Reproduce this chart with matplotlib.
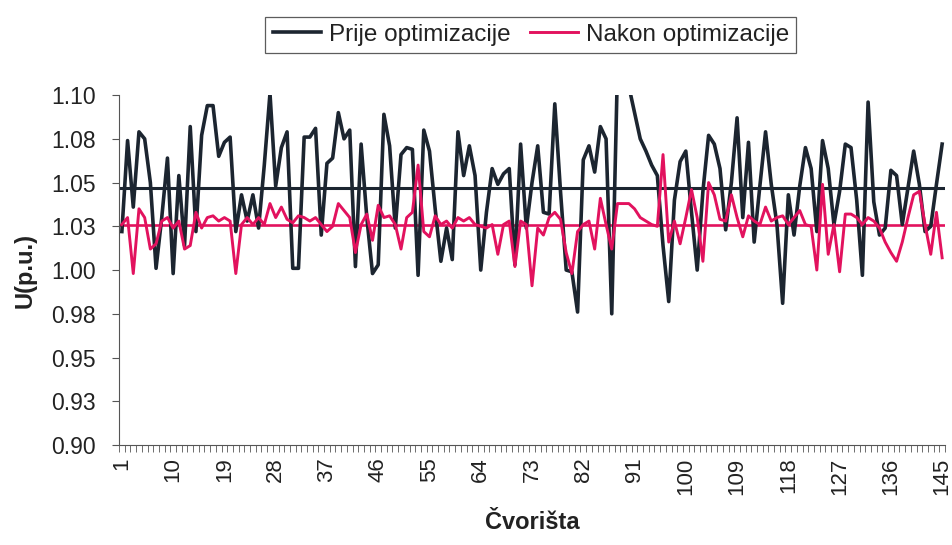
import numpy as np
import matplotlib
matplotlib.use("Agg")
import matplotlib.pyplot as plt
from matplotlib.ticker import FixedLocator

plt.rcParams['font.family'] = ['Liberation Sans', 'DejaVu Sans']

# napon po cvoristima prije optimizacije (p.u.)
prije = [
    1.022, 1.074, 1.036, 1.079, 1.075, 1.050, 1.001, 1.030, 1.064, 0.998,
    1.054, 1.014, 1.082, 1.022, 1.077, 1.094, 1.094, 1.065, 1.073, 1.076,
    1.022, 1.043, 1.028, 1.043, 1.024, 1.060, 1.101, 1.048, 1.070, 1.079,
    1.001, 1.001, 1.076, 1.076, 1.081, 1.020, 1.061, 1.064, 1.090, 1.075,
    1.080, 1.002, 1.072, 1.030, 0.998, 1.003, 1.089, 1.071, 1.024, 1.066,
    1.070, 1.069, 0.997, 1.080, 1.068, 1.035, 1.005, 1.024, 1.006, 1.079,
    1.054, 1.071, 1.054, 1.000, 1.033, 1.058, 1.049, 1.055, 1.058, 1.003,
    1.072, 1.024, 1.050, 1.071, 1.033, 1.032, 1.095, 1.045, 1.000, 0.999,
    0.976, 1.063, 1.071, 1.056, 1.082, 1.075, 0.975, 1.115, 1.125, 1.105,
    1.090, 1.075, 1.068, 1.060, 1.054, 1.014, 0.982, 1.040, 1.062, 1.068,
    1.033, 1.000, 1.045, 1.077, 1.072, 1.058, 1.023, 1.050, 1.087, 1.030,
    1.073, 1.016, 1.048, 1.079, 1.049, 1.026, 0.981, 1.043, 1.020, 1.048,
    1.070, 1.058, 1.022, 1.074, 1.058, 1.026, 1.045, 1.072, 1.070, 1.040,
    0.997, 1.096, 1.039, 1.020, 1.024, 1.057, 1.054, 1.026, 1.047, 1.068,
    1.049, 1.022, 1.025, 1.049, 1.072,
]

# napon po cvoristima nakon optimizacije (p.u.)
nakon = [
    1.026, 1.030, 0.998, 1.035, 1.030, 1.012, 1.015, 1.028, 1.030, 1.024,
    1.028, 1.012, 1.014, 1.033, 1.024, 1.030, 1.031, 1.028, 1.030, 1.028,
    0.998, 1.026, 1.030, 1.026, 1.030, 1.026, 1.038, 1.030, 1.036, 1.029,
    1.027, 1.031, 1.030, 1.028, 1.030, 1.026, 1.022, 1.025, 1.038, 1.034,
    1.030, 1.010, 1.026, 1.032, 1.017, 1.037, 1.030, 1.031, 1.026, 1.012,
    1.030, 1.033, 1.060, 1.022, 1.019, 1.031, 1.026, 1.028, 1.024, 1.030,
    1.028, 1.030, 1.026, 1.025, 1.024, 1.026, 1.009, 1.026, 1.028, 1.002,
    1.028, 1.026, 0.991, 1.024, 1.020, 1.030, 1.033, 1.029, 1.010, 0.998,
    1.022, 1.026, 1.028, 1.012, 1.041, 1.026, 1.012, 1.038, 1.038, 1.038,
    1.035, 1.030, 1.028, 1.026, 1.025, 1.066, 1.016, 1.028, 1.015, 1.030,
    1.046, 1.030, 1.005, 1.050, 1.043, 1.029, 1.028, 1.043, 1.030, 1.019,
    1.031, 1.028, 1.026, 1.036, 1.028, 1.030, 1.031, 1.026, 1.030, 1.034,
    1.026, 1.025, 1.000, 1.049, 1.009, 1.026, 0.999, 1.032, 1.032, 1.030,
    1.026, 1.030, 1.028, 1.024, 1.016, 1.010, 1.005, 1.016, 1.030, 1.043,
    1.045, 1.026, 1.009, 1.033, 1.007,
]

# srednje vrijednosti (horizontalne linije)
prosjek_prije = 1.047
prosjek_nakon = 1.026

cvorista = np.arange(1, len(prije) + 1)
x_oznake = list(range(1, 146, 9))
y_vrijednosti = [0.90, 0.925, 0.95, 0.975, 1.00, 1.025, 1.05, 1.075, 1.10]
y_oznake = ["0.90", "0.93", "0.95", "0.98", "1.00", "1.03", "1.05", "1.08", "1.10"]

crna = '#1c2530'
roza = '#e2125e'

fig = plt.figure(figsize=(9.53, 5.45), dpi=100)
ax = fig.add_axes([0.1249, 0.1835, 0.8667, 0.642])

l1, = ax.plot(cvorista, prije, color=crna, lw=2.6, label='Prije optimizacije', zorder=3)
l2, = ax.plot(cvorista, nakon, color=roza, lw=2.1, label='Nakon optimizacije', zorder=4)
ax.plot([0.5, len(prije) + 0.5], [prosjek_prije] * 2, color=crna, lw=2.2, zorder=2)
ax.plot([0.5, len(nakon) + 0.5], [prosjek_nakon] * 2, color=roza, lw=1.9, zorder=2)

ax.set_xlim(0.5, len(prije) + 0.5)
ax.set_ylim(0.90, 1.10)

ax.yaxis.set_major_locator(FixedLocator(y_vrijednosti))
ax.set_yticklabels(y_oznake, fontsize=16.5, color='#222222')
ax.tick_params(axis='y', direction='out', length=5, width=0.8, color='#555555', pad=12)

ax.set_xticks(x_oznake)
ax.set_xticklabels([str(v) for v in x_oznake], rotation=90, fontsize=16, color='#222222')
ax.xaxis.set_minor_locator(FixedLocator(np.arange(0.5, len(prije) + 1, 1)))
ax.tick_params(axis='x', which='major', length=0, pad=9)
ax.tick_params(axis='x', which='minor', direction='out', length=5, width=0.6, color='#555555')

for s in ['top', 'right']:
    ax.spines[s].set_visible(False)
for s in ['left', 'bottom']:
    ax.spines[s].set_color('#555555')
    ax.spines[s].set_linewidth(0.8)

ax.set_ylabel('U(p.u.)', fontsize=17, fontweight='bold', labelpad=10, color='#222222')
ax.set_xlabel('Čvorišta', fontsize=17, fontweight='bold', labelpad=12, color='#222222')

leg = fig.legend(handles=[l1, l2], loc='center', bbox_to_anchor=(0.557, 0.936),
                 ncol=2, fontsize=17.5, frameon=True, fancybox=False,
                 edgecolor='#333333', handlelength=2.0, handletextpad=0.3,
                 columnspacing=0.8, borderpad=0.3)
leg.get_frame().set_linewidth(0.9)
for t in leg.get_texts():
    t.set_color('#222222')

fig.savefig('out.png', dpi=100)
